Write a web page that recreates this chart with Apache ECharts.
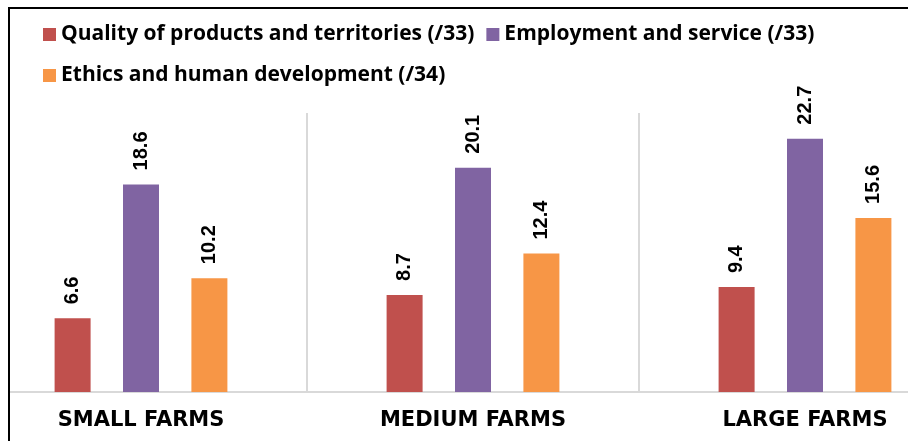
<!DOCTYPE html>
<html>
<head>
<meta charset="utf-8">
<script src="https://cdn.jsdelivr.net/npm/echarts@6/dist/echarts.min.js"></script>
<style>
  html, body { margin: 0; padding: 0; background: #ffffff; overflow: hidden; }
  /* The chart canvas is wider than the view; the outer category edges fall outside it */
  #chart { position: absolute; left: -33px; top: 0; width: 1004px; height: 441px; }
</style>
</head>
<body>
<div id="chart"></div>
<script>
// Farm size groups on the x axis
const categories = ['SMALL FARMS', 'MEDIUM FARMS', 'LARGE FARMS'];

// Average scores per dimension
const seriesNames = [
  'Quality of products and territories (/33)',
  'Employment and service (/33)',
  'Ethics and human development (/34)'
];
const qualityScores = [6.6, 8.7, 9.4];
const employmentScores = [18.6, 20.1, 22.7];
const ethicsScores = [10.2, 12.4, 15.6];

const colors = ['#C0504D', '#8064A2', '#F79646'];

// Horizontal offset of the visible area inside the chart canvas
const OFFSET = 33;

const chart = echarts.init(document.getElementById('chart'), null, { renderer: 'canvas' });

const labelStyle = {
  show: true,
  position: 'top',
  rotate: 90,
  align: 'left',
  verticalAlign: 'middle',
  distance: 14,
  fontFamily: 'Liberation Sans',
  fontWeight: 'bold',
  fontSize: 20,
  color: '#000000',
  formatter: p => p.value.toFixed(1)
};

const legendText = {
  fontFamily: 'Open Sans',
  fontWeight: 'bold',
  fontSize: 21,
  color: '#000000'
};

function barSeries(i, values) {
  return {
    name: seriesNames[i],
    type: 'bar',
    data: values,
    barWidth: 36,
    barGap: '90%',
    itemStyle: { color: colors[i] },
    label: labelStyle,
    emphasis: { disabled: true }
  };
}

chart.setOption({
  animation: false,
  backgroundColor: '#ffffff',
  legend: [
    {
      data: [seriesNames[0], seriesNames[1]],
      left: 38 + OFFSET,
      top: 19,
      icon: 'rect',
      itemWidth: 13,
      itemHeight: 13,
      itemGap: 12,
      itemStyle: { borderWidth: 0 },
      textStyle: legendText,
      selectedMode: false
    },
    {
      data: [seriesNames[2]],
      left: 38 + OFFSET,
      top: 60,
      icon: 'rect',
      itemWidth: 13,
      itemHeight: 13,
      itemStyle: { borderWidth: 0 },
      textStyle: legendText,
      selectedMode: false
    }
  ],
  grid: { left: 8, width: 996, top: 113, height: 279, containLabel: false },
  xAxis: {
    type: 'category',
    data: categories,
    axisLine: { show: true, lineStyle: { color: '#d9d9d9', width: 2 } },
    axisTick: { show: false },
    splitLine: { show: true, interval: 0, lineStyle: { color: '#d9d9d9', width: 2 } },
    axisLabel: {
      margin: 18,
      fontFamily: 'DejaVu Sans',
      fontWeight: 'bold',
      fontSize: 21,
      color: '#000000'
    }
  },
  yAxis: {
    type: 'value',
    min: 0,
    max: 25,
    show: false,
    splitLine: { show: false }
  },
  graphic: [
    {
      // blank margin outside the frame on the left
      type: 'rect',
      shape: { x: 0, y: 0, width: 8 + OFFSET, height: 441 },
      style: { fill: '#ffffff' },
      silent: true,
      z: 99
    },
    {
      type: 'rect',
      shape: { x: 9 + OFFSET, y: 8, width: 1100, height: 500 },
      style: { fill: 'none', stroke: '#000000', lineWidth: 2 },
      silent: true,
      z: 100
    }
  ],
  series: [
    barSeries(0, qualityScores),
    barSeries(1, employmentScores),
    barSeries(2, ethicsScores)
  ]
});
</script>
</body>
</html>
